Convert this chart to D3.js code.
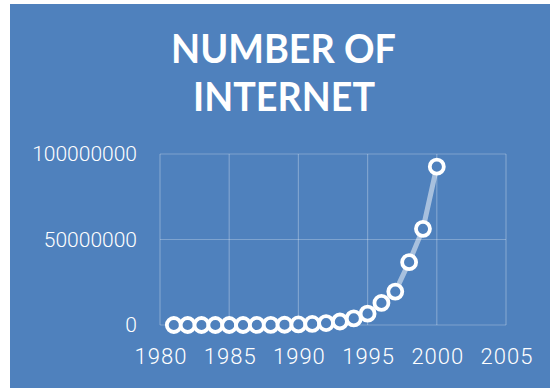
<!DOCTYPE html>
<html>
<head>
<meta charset="utf-8">
<script src="https://cdn.jsdelivr.net/npm/d3@7"></script>
<style>
  html, body { margin: 0; padding: 0; background: #ffffff; }
  svg { display: block; }
</style>
</head>
<body>
<svg id="chart" width="550" height="388"></svg>
<script>
// Internet host counts by year
const years = [1981, 1982, 1983, 1984, 1985, 1986, 1987, 1988, 1989, 1990,
               1991, 1992, 1993, 1994, 1995, 1996, 1997, 1998, 1999, 2000];
const hosts = [213, 235, 562, 1024, 1961, 5089, 28174, 56000, 159000, 313000,
               617000, 1136000, 2056000, 3864000, 6642000, 12881000, 19540000, 36739000, 56218000, 92600000];
const xTicks = [1980, 1985, 1990, 1995, 2000, 2005];
const yTicks = [0, 50000000, 100000000];
const titleLines = ["NUMBER OF", "INTERNET"];

const svg = d3.select("#chart");
const bg = "#4f81bd";

svg.append("rect")
  .attr("x", 10).attr("y", 4)
  .attr("width", 540).attr("height", 384)
  .attr("fill", bg);

// Title, two centred, letter-spaced lines
const titleFont = "Lato, 'Liberation Sans', Arial, sans-serif";
const titleSpecs = [{cx: 283.5, y: 62.7, w: 225}, {cx: 284, y: 110.7, w: 182}];
titleLines.forEach((t, i) => {
  svg.append("text")
    .attr("x", titleSpecs[i].cx - titleSpecs[i].w / 2)
    .attr("y", titleSpecs[i].y)
    .attr("textLength", titleSpecs[i].w)
    .attr("lengthAdjust", "spacingAndGlyphs")
    .attr("font-family", titleFont)
    .attr("font-weight", 700)
    .attr("font-size", 40)
    .attr("fill", "#ffffff")
    .text(t);
});

// Scales
const x = d3.scaleLinear().domain([1980, 2005]).range([160, 506]);
const y = d3.scaleLinear().domain([0, 100000000]).range([325, 154]);

const grid = svg.append("g").attr("stroke", "rgba(255,255,255,0.27)").attr("stroke-width", 1.2);
grid.selectAll("line.v").data(xTicks).join("line")
  .attr("class", "v")
  .attr("x1", d => x(d)).attr("x2", d => x(d))
  .attr("y1", y(100000000)).attr("y2", y(0));
grid.selectAll("line.h").data(yTicks).join("line")
  .attr("class", "h")
  .attr("x1", x(1980)).attr("x2", x(2005))
  .attr("y1", d => y(d)).attr("y2", d => y(d));

// Axes (labels only)
const yAxis = svg.append("g")
  .attr("transform", `translate(${x(1980)},0)`)
  .call(d3.axisLeft(y).tickValues(yTicks).tickFormat(d3.format("d")).tickSize(0).tickPadding(23));
yAxis.select(".domain").remove();
yAxis.selectAll("text")
  .attr("fill", "#ffffff")
  .attr("font-family", "Roboto, sans-serif")
  .attr("font-weight", 300)
  .attr("font-size", 21);

const xAxis = svg.append("g")
  .attr("transform", `translate(0,${y(0)})`)
  .call(d3.axisBottom(x).tickValues(xTicks).tickFormat(d3.format("d")).tickSize(0).tickPadding(23));
xAxis.select(".domain").remove();
xAxis.selectAll("text")
  .attr("fill", "#ffffff")
  .attr("font-family", "Roboto, sans-serif")
  .attr("font-weight", 300)
  .attr("font-size", 22)
  .attr("letter-spacing", 1)
  .attr("dx", 0.5);

// Series line and markers
const data = years.map((yr, i) => ({yr, v: hosts[i]}));
svg.append("path")
  .datum(data)
  .attr("fill", "none")
  .attr("stroke", "rgba(255,255,255,0.5)")
  .attr("stroke-width", 5)
  .attr("stroke-linejoin", "round")
  .attr("d", d3.line().x(d => x(d.yr)).y(d => y(d.v)));

svg.append("g").selectAll("circle").data(data).join("circle")
  .attr("cx", d => x(d.yr))
  .attr("cy", d => y(d.v))
  .attr("r", 7)
  .attr("fill", bg)
  .attr("stroke", "#ffffff")
  .attr("stroke-width", 3.8);
</script>
</body>
</html>
